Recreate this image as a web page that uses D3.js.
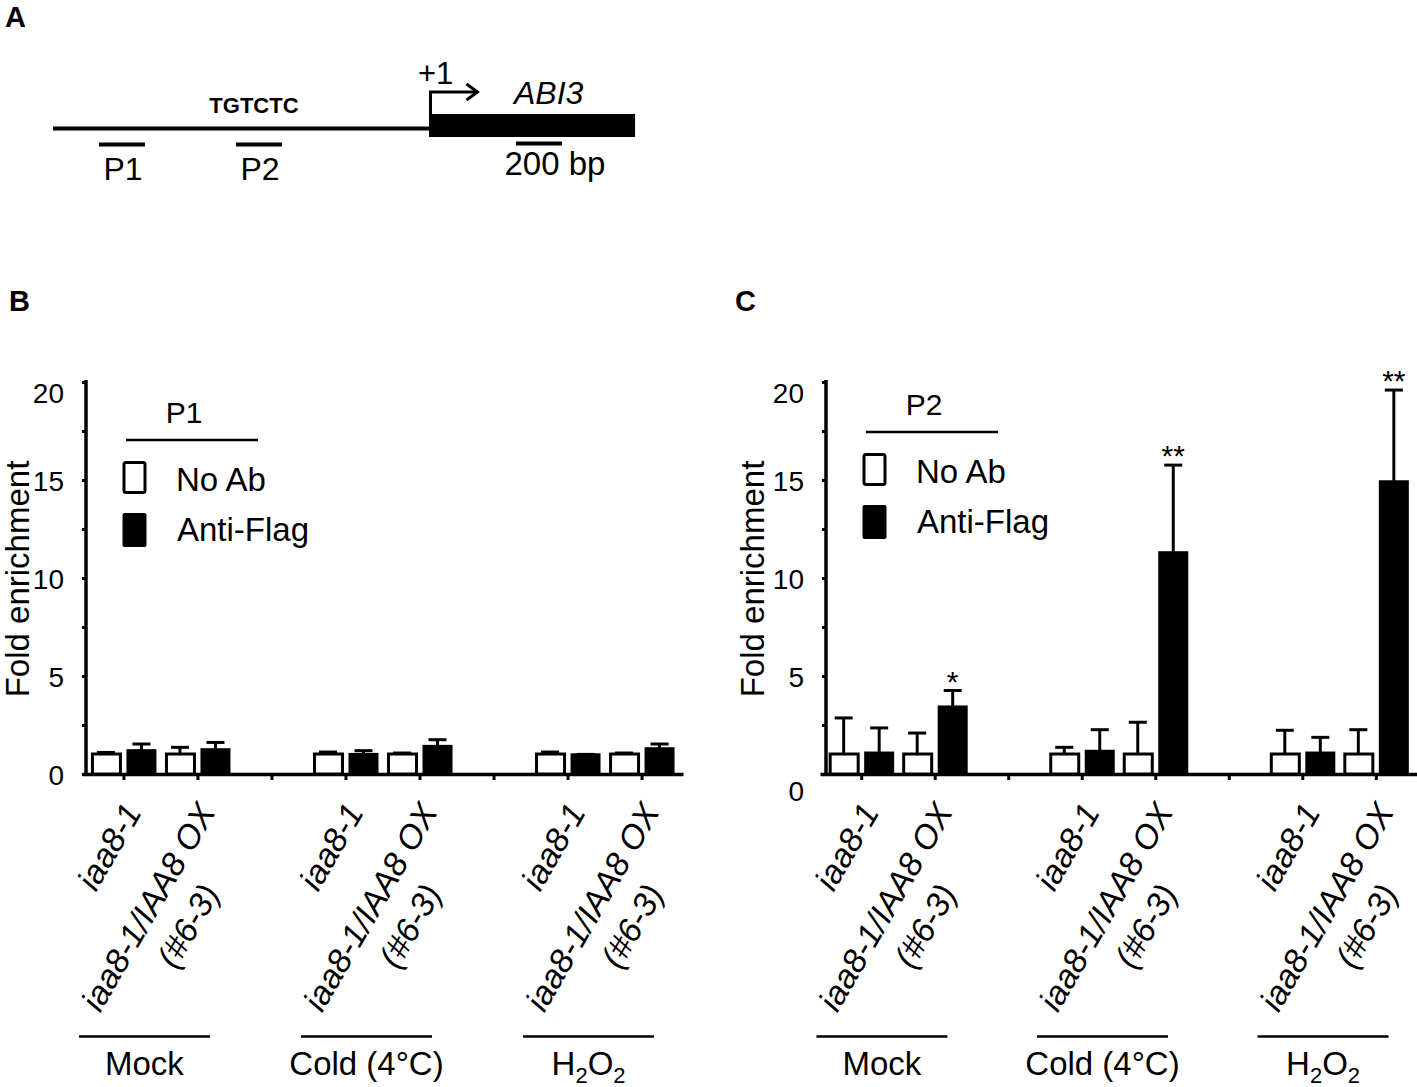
<!DOCTYPE html>
<html>
<head>
<meta charset="utf-8">
<script src="https://cdn.jsdelivr.net/npm/d3@7"></script>
<style>
	body { margin: 0; background: #fff; }
	svg { display: block; font-family: "Liberation Sans", Arial, sans-serif; }
</style>
</head>
<body>
<svg id="fig" width="1417" height="1087"></svg>
<script>

// x slots of the bar charts (two separators between the conditions)
const slots = ["mock_wt", "mock_ox", "sep1", "cold_wt", "cold_ox", "sep2", "h2o2_wt", "h2o2_ox"];
const barSlots = ["mock_wt", "mock_ox", "cold_wt", "cold_ox", "h2o2_wt", "h2o2_ox"];
const slotLabels = [["iaa8-1"], ["iaa8-1/IAA8 OX", "(#6-3)"], [], ["iaa8-1"], ["iaa8-1/IAA8 OX", "(#6-3)"], [], ["iaa8-1"], ["iaa8-1/IAA8 OX", "(#6-3)"]];
const conditions = ["Mock", "Cold (4°C)", "H2O2"];
const conditionSlots = [["mock_wt", "mock_ox"], ["cold_wt", "cold_ox"], ["h2o2_wt", "h2o2_ox"]];
const legendNames = ["No Ab", "Anti-Flag"];
const yTicks = [0, 2.5, 5, 7.5, 10, 12.5, 15, 17.5, 20];

// P1 (panel B)
const p1NoAbMean = [1.02, 1.02, 1.02, 1.02, 1.02, 1.02];
const p1NoAbSd   = [0.08, 0.34, 0.10, 0.05, 0.10, 0.05];
const p1FlagMean = [1.19, 1.24, 1.00, 1.41, 0.98, 1.29];
const p1FlagSd   = [0.34, 0.37, 0.19, 0.34, 0.02, 0.24];
const p1Signif   = ["", "", "", "", "", ""];

// P2 (panel C)
const p2NoAbMean = [1.02, 1.02, 1.02, 1.02, 1.02, 1.02];
const p2NoAbSd   = [1.84, 1.07, 0.34, 1.62, 1.21, 1.24];
const p2FlagMean = [1.07, 3.42, 1.16, 11.29, 1.07, 14.91];
const p2FlagSd   = [1.28, 0.84, 1.10, 4.47, 0.80, 4.68];
const p2Signif   = ["", "*", "", "**", "", "**"];

// panel A: ABI3 promoter map, positions in bp relative to the TSS
const promoterStart = -1635;
const geneEnd = 896;
const primerNames = ["P1", "P2"];
const primerStart = [-1435, -839];
const primerEnd = [-1235, -639];
const motifName = "TGTCTC";
const motifPos = -761;
const scaleBarStart = 378;
const scaleBarLength = 200;

const svg = d3.select("#fig");
svg.append("rect").attr("width", 1417).attr("height", 1087).attr("fill", "#fff");

// ---------- panel A ----------
function drawMap() {
	const bp = d3.scaleLinear().domain([0, 200]).range([429, 475]);
	const g = svg.append("g");
	const lineY = 128.5;

	g.append("line")
		.attr("x1", bp(promoterStart)).attr("x2", bp(0))
		.attr("y1", lineY).attr("y2", lineY)
		.attr("stroke", "#000").attr("stroke-width", 4);

	g.append("rect")
		.attr("x", bp(0)).attr("y", 114)
		.attr("width", bp(geneEnd) - bp(0)).attr("height", 23)
		.attr("fill", "#000");

	// transcription start arrow
	const tss = bp(0) + 1.5;
	g.append("path")
		.attr("d", "M" + tss + ",115V92H" + (tss + 47))
		.attr("fill", "none").attr("stroke", "#000").attr("stroke-width", 3);
	g.append("path")
		.attr("d", "M" + (tss + 36) + ",84L" + (tss + 47) + ",92L" + (tss + 36) + ",100")
		.attr("fill", "none").attr("stroke", "#000").attr("stroke-width", 3);
	g.append("text").attr("x", 418).attr("y", 84).style("font-size", "31px").text("+1");
	g.append("text").attr("x", 514).attr("y", 104)
		.style("font-size", "32px").style("font-style", "italic").text("ABI3");

	primerNames.forEach((name, i) => {
		g.append("line")
			.attr("x1", bp(primerStart[i])).attr("x2", bp(primerEnd[i]))
			.attr("y1", 144.5).attr("y2", 144.5)
			.attr("stroke", "#000").attr("stroke-width", 4);
		g.append("text")
			.attr("x", (bp(primerStart[i]) + bp(primerEnd[i])) / 2 + 1)
			.attr("y", 180)
			.attr("text-anchor", "middle")
			.style("font-size", "32px")
			.text(name);
	});

	g.append("text")
		.attr("x", bp(motifPos)).attr("y", 113)
		.attr("text-anchor", "middle")
		.style("font-size", "22px").style("font-weight", "bold")
		.text(motifName);

	g.append("line")
		.attr("x1", bp(scaleBarStart)).attr("x2", bp(scaleBarStart + scaleBarLength))
		.attr("y1", 143.5).attr("y2", 143.5)
		.attr("stroke", "#000").attr("stroke-width", 4);
	g.append("text")
		.attr("x", (bp(scaleBarStart) + bp(scaleBarStart + scaleBarLength)) / 2 + 16)
		.attr("y", 175)
		.attr("text-anchor", "middle")
		.style("font-size", "33px")
		.text(scaleBarLength + " bp");
}

// ---------- panels B and C ----------
function drawPanel(cfg) {
	const g = svg.append("g");
	const y = d3.scaleLinear().domain([0, 20]).range([774, 382]);
	const x = d3.scalePoint().domain(slots).range(cfg.xRange).padding(0.56);
	const axisX = cfg.axisX;

	// y axis
	const yAxis = d3.axisLeft(y)
		.tickValues(yTicks)
		.tickSize(4)
		.tickSizeOuter(0)
		.tickPadding(18)
		.tickFormat(d => d % 5 === 0 ? d3.format("d")(d) : "");
	const yg = g.append("g")
		.attr("transform", "translate(" + axisX + ",0)")
		.call(yAxis);
	yg.select(".domain").attr("stroke-width", 3.5).attr("d", "M0,380V776");
	yg.selectAll(".tick line").attr("stroke-width", 3);
	yg.selectAll(".tick text")
		.style("font-size", "28px")
		.style("font-family", "'Liberation Sans', Arial, sans-serif")
		.attr("dy", d => (d === 20 ? 10 : 0) + (d === 0 ? cfg.zeroShift : 0) + 10 + "px");

	g.append("text")
		.attr("transform", "translate(" + cfg.yLabelX + ",579) rotate(-90)")
		.attr("text-anchor", "middle")
		.style("font-size", "33px")
		.text("Fold enrichment");

	// x axis
	const xAxis = d3.axisBottom(x).tickSize(6).tickSizeOuter(0).tickFormat("");
	const xg = g.append("g")
		.attr("transform", "translate(0,774)")
		.call(xAxis);
	xg.select(".domain").attr("stroke-width", 3.5);
	xg.selectAll(".tick line").attr("stroke-width", 3);

	// tick labels
	slots.forEach((s, i) => {
		const lines = slotLabels[i];
		if (!lines.length) return;
		const lg = g.append("g")
			.attr("transform", "translate(" + (x(s) + 19) + ",812) rotate(-60)");
		const t1 = lg.append("text")
			.attr("text-anchor", "end")
			.style("font-size", "33.5px").style("font-style", "italic")
			.text(lines[0]);
		if (lines.length > 1) {
			const len = t1.node().getComputedTextLength();
			lg.append("text")
				.attr("x", -len / 2 + 3.5)
				.attr("y", 44)
				.attr("text-anchor", "middle")
				.style("font-size", "33.5px").style("font-style", "italic")
				.text(lines[1]);
		}
	});

	// bars
	const rows = barSlots.map((s, i) => ({
		slot: s,
		noAb: cfg.noAbMean[i], noAbSd: cfg.noAbSd[i],
		flag: cfg.flagMean[i], flagSd: cfg.flagSd[i],
		sig: cfg.signif[i]
	}));

	const errorBar = (cx, top, sd) => {
		g.append("line")
			.attr("x1", cx).attr("x2", cx)
			.attr("y1", y(top)).attr("y2", y(top + sd))
			.attr("stroke", "#000").attr("stroke-width", 3);
		g.append("line")
			.attr("x1", cx - 9).attr("x2", cx + 9)
			.attr("y1", y(top + sd)).attr("y2", y(top + sd))
			.attr("stroke", "#000").attr("stroke-width", 3);
	};

	rows.forEach(d => {
		const cx = x(d.slot);
		errorBar(cx - 17.5, d.noAb, d.noAbSd);
		errorBar(cx + 18, d.flag, d.flagSd);
		g.append("rect")
			.attr("x", cx - 31).attr("width", 28)
			.attr("y", y(d.noAb)).attr("height", y(0) - y(d.noAb))
			.attr("fill", "#fff").attr("stroke", "#000").attr("stroke-width", 3);
		g.append("rect")
			.attr("x", cx + 3).attr("width", 30)
			.attr("y", y(d.flag) - 1.5).attr("height", y(0) - y(d.flag) + 1.5)
			.attr("fill", "#000");
		if (d.sig) {
			g.append("text")
				.attr("x", cx + 18).attr("y", y(d.flag + d.flagSd) + 1)
				.attr("text-anchor", "middle")
				.style("font-size", "30px")
				.text(d.sig);
		}
	});

	// legend
	const lx = axisX, ly = cfg.legendDy;
	g.append("text")
		.attr("x", lx + 98).attr("y", 423 + ly)
		.attr("text-anchor", "middle")
		.style("font-size", "30px")
		.text(cfg.title);
	g.append("line")
		.attr("x1", lx + 40).attr("x2", lx + 172)
		.attr("y1", 440 + ly).attr("y2", 440 + ly)
		.attr("stroke", "#000").attr("stroke-width", 2.5);
	g.append("rect")
		.attr("x", lx + 38).attr("y", 462.5 + ly).attr("width", 21).attr("height", 30)
		.attr("rx", 2).attr("fill", "#fff").attr("stroke", "#000").attr("stroke-width", 3);
	g.append("rect")
		.attr("x", lx + 36.5).attr("y", 513 + ly).attr("width", 24).attr("height", 34)
		.attr("rx", 2).attr("fill", "#000");
	legendNames.forEach((name, i) => {
		g.append("text")
			.attr("x", lx + 90 + i).attr("y", 491 + ly + i * 50)
			.style("font-size", "33px")
			.text(name);
	});

	// condition groups
	conditions.forEach((c, i) => {
		const pair = conditionSlots[i];
		const mid = (x(pair[0]) + x(pair[1])) / 2 - 16;
		g.append("line")
			.attr("x1", mid - 65.5).attr("x2", mid + 65.5)
			.attr("y1", 1036.5).attr("y2", 1036.5)
			.attr("stroke", "#000").attr("stroke-width", 2.5);
		const t = g.append("text")
			.attr("x", mid).attr("y", 1075)
			.attr("text-anchor", "middle")
			.style("font-size", "33px");
		if (c === "H2O2") {
			t.append("tspan").text("H");
			t.append("tspan").attr("dy", 8).style("font-size", "22px").text("2");
			t.append("tspan").attr("dy", -8).text("O");
			t.append("tspan").attr("dy", 8).style("font-size", "22px").text("2");
		} else {
			t.text(c);
		}
	});
}

drawMap();

drawPanel({
	axisX: 86, xRange: [82, 683], yLabelX: 29, zeroShift: 0, legendDy: 0, title: "P1",
	noAbMean: p1NoAbMean, noAbSd: p1NoAbSd, flagMean: p1FlagMean, flagSd: p1FlagSd, signif: p1Signif
});

drawPanel({
	axisX: 826, xRange: [820, 1417], yLabelX: 764, zeroShift: 16, legendDy: -8, title: "P2",
	noAbMean: p2NoAbMean, noAbSd: p2NoAbSd, flagMean: p2FlagMean, flagSd: p2FlagSd, signif: p2Signif
});

// panel letters
[["A", 5, 27], ["B", 9, 311], ["C", 735, 311]].forEach(d => {
	svg.append("text")
		.attr("x", d[1]).attr("y", d[2])
		.style("font-size", "29px").style("font-weight", "bold")
		.text(d[0]);
});

</script>
</body>
</html>
